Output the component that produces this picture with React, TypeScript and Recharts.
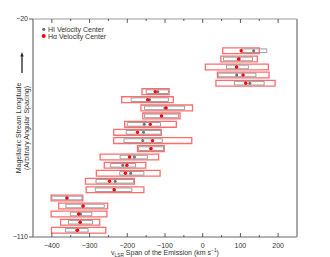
import React from 'react';
import { ComposedChart, XAxis, YAxis, ReferenceArea, Scatter } from 'recharts';

// Stream longitude of each row (arbitrary spacing)
const longitude = [-33.1, -36.5, -39.8, -43.1, -46.5, -50.0, -53.3, -56.7, -60.0, -63.5, -66.8, -70.2, -73.5, -77.0, -80.4, -83.7, -87.0, -90.5, -93.9, -97.2, -100.5, -103.9, -107.2];
// H-alpha velocity span (km/s)
const haMin = [53, 48, 7, 39, 35, -161, -215, -164, -159, -207, -236, -236, -173, -272, -261, -282, -311, -309, -402, -382, -402, -377, -401];
const haMax = [150, 145, 174, 176, 192, -89, -78, -27, -60, -70, -110, -29, -102, -117, -151, -113, -181, -156, -318, -252, -254, -273, -257];
// HI velocity span (km/s)
const hiMin = [102, 55, 63, 41, 84, -150, -190, -154, -154, -200, -203, -209, -170, -219, -245, -220, -283, -285, -400, -363, -351, -356, -364];
const hiMax = [170, 132, 121, 141, 163, -91, -91, -48, -64, -112, -110, -107, -104, -146, -178, -156, -183, -188, -320, -261, -294, -292, -304];
// Velocity centres
const hiCenter = [135, 94, 89, 90, 125, -119, -141, -100, -110, -155, -157, -159, -138, -181, -212, -191, -232, -234, -360, -318, -324, -325, -334];
const haCenter = [102, 96, 90, 107, 114, -126, -146, -97, -109, -139, -173, -133, -137, -194, -201, -205, -247, -235, -360, -317, -329, -325, -332];

const xTicks = [-400, -350, -300, -250, -200, -150, -100, -50, 0, 50, 100, 150, 200];
const xLabelTicks = [-400, -300, -200, -100, 0, 100, 200];
const yTicks = [-20, -110];

const FONT = '"Liberation Sans", Arial, Helvetica, sans-serif';
const RED_HALF = 1.2;
const GRAY_HALF = 0.75;
const HA_NAME = 'H\u03b1 Velocity Center';
const HI_NAME = 'HI Velocity Center';

const hiPoints = longitude.map((y, i) => ({ x: hiCenter[i], y }));
const haPoints = longitude.map((y, i) => ({ x: haCenter[i], y }));

const fmt = (v: number) => (v < 0 ? `\u2212${-v}` : `${v}`);

const BottomTick = (props: any) => {
  const { x, y, payload } = props;
  const v = payload.value;
  const major = xLabelTicks.includes(v);
  return (
    <g>
      <line x1={x} x2={x} y1={y} y2={y - (major ? 4 : 2)} stroke="#333" strokeWidth={0.8} />
      {major && (
        <text x={x} y={y + 11} textAnchor="middle" fontSize={7} fill="#333" fontFamily={FONT}>
          {fmt(v)}
        </text>
      )}
    </g>
  );
};

const TopTick = (props: any) => {
  const { x, y, payload } = props;
  const v = payload.value;
  const major = xLabelTicks.includes(v);
  return <line x1={x} x2={x} y1={y} y2={y + (major ? 4 : 2)} stroke="#333" strokeWidth={0.8} />;
};

const XLabel = () => (
  <text x={165} y={255} textAnchor="middle" fontSize={7} fill="#333" fontFamily={FONT}>
    <tspan>v</tspan>
    <tspan fontSize={4.8} dy={1.5}>LSR</tspan>
    <tspan dy={-1.5}> Span of the Emission (km s</tspan>
    <tspan fontSize={4.8} dy={-3}>{'\u22121'}</tspan>
    <tspan dy={3}>)</tspan>
  </text>
);

const YLabel = () => (
  <g fontFamily={FONT} fontSize={7} fill="#333">
    <text transform="translate(18.5,128) rotate(-90)" textAnchor="middle" dominantBaseline="central">
      Magellanic Stream Longitude
    </text>
    <text transform="translate(26.5,128) rotate(-90)" textAnchor="middle" dominantBaseline="central">
      (Arbitrary Angular Spacing)
    </text>
    <line x1={22} x2={22} y1={73} y2={55} stroke="#222" strokeWidth={1.3} />
    <path d="M22,52 L20.3,56.5 L23.7,56.5 Z" fill="#222" />
  </g>
);

const LegendLabel = () => (
  <g fontFamily={FONT} fontSize={7}>
    <circle cx={43.7} cy={29.3} r={1.6} fill="#707070" />
    <text x={48} y={29.3} dominantBaseline="central" fill="#333">{HI_NAME}</text>
    <circle cx={43.7} cy={36} r={2} fill="#ff0000" />
    <text x={48} y={36} dominantBaseline="central" fill="#333">{HA_NAME}</text>
  </g>
);

const grayDot = (p: any) => <circle cx={p.cx} cy={p.cy} r={1.5} fill="#707070" />;
const redDot = (p: any) => <circle cx={p.cx} cy={p.cy} r={1.7} fill="#ff0000" />;

export default function App() {
  return (
    <div style={{ position: 'absolute', left: 0, top: 0, width: 330, height: 257, background: '#fff' }}>
      <ComposedChart width={330} height={257} margin={{ top: 18, right: 32, bottom: 0, left: 0 }}>
        <XAxis
          xAxisId="b"
          type="number"
          dataKey="x"
          domain={[-450, 250]}
          allowDataOverflow
          ticks={xTicks}
          interval={0}
          orientation="bottom"
          height={20}
          tickSize={0}
          tickMargin={0}
          tickLine={false}
          tick={<BottomTick />}
          axisLine={{ stroke: '#9a9a9a', strokeWidth: 1.5 }}
          label={<XLabel />}
        />
        <XAxis
          xAxisId="t"
          type="number"
          dataKey="x"
          domain={[-450, 250]}
          allowDataOverflow
          ticks={xTicks}
          interval={0}
          orientation="top"
          height={1}
          tickSize={0}
          tickMargin={0}
          tickLine={false}
          tick={<TopTick />}
          axisLine={{ stroke: '#9a9a9a', strokeWidth: 1.2 }}
          label={<LegendLabel />}
        />
        <YAxis
          yAxisId="l"
          type="number"
          dataKey="y"
          domain={[-110, -20]}
          allowDataOverflow
          ticks={yTicks}
          interval={0}
          width={33}
          tickSize={4}
          tickMargin={1}
          tickFormatter={fmt}
          tick={{ fontSize: 7, fill: '#333', fontFamily: FONT }}
          tickLine={{ stroke: '#333', strokeWidth: 0.8 }}
          axisLine={{ stroke: '#a8a8a8', strokeWidth: 2 }}
          label={<YLabel />}
        />
        <YAxis
          yAxisId="r"
          orientation="right"
          type="number"
          dataKey="y"
          domain={[-110, -20]}
          allowDataOverflow
          width={1}
          tick={false}
          tickLine={false}
          axisLine={{ stroke: '#a8a8a8', strokeWidth: 2 }}
        />
        {longitude.map((y, i) => (
          <ReferenceArea
            key={`ha-${i}`}
            xAxisId="b"
            yAxisId="l"
            x1={haMin[i]}
            x2={haMax[i]}
            y1={y - RED_HALF}
            y2={y + RED_HALF}
            fill="#ffffff"
            fillOpacity={1}
            stroke="#ff5c5c"
            strokeOpacity={0.9}
            strokeWidth={1.3}
          />
        ))}
        {longitude.map((y, i) => (
          <ReferenceArea
            key={`hi-${i}`}
            xAxisId="b"
            yAxisId="l"
            x1={hiMin[i]}
            x2={hiMax[i]}
            y1={y - GRAY_HALF}
            y2={y + GRAY_HALF}
            fill="#ffffff"
            fillOpacity={0}
            stroke="#9c9c9c"
            strokeWidth={1}
          />
        ))}
        <Scatter
          name={HI_NAME}
          data={hiPoints}
          xAxisId="b"
          yAxisId="l"
          shape={grayDot}
          isAnimationActive={false}
        />
        <Scatter
          name={HA_NAME}
          data={haPoints}
          xAxisId="b"
          yAxisId="l"
          shape={redDot}
          isAnimationActive={false}
        />
      </ComposedChart>
    </div>
  );
}
